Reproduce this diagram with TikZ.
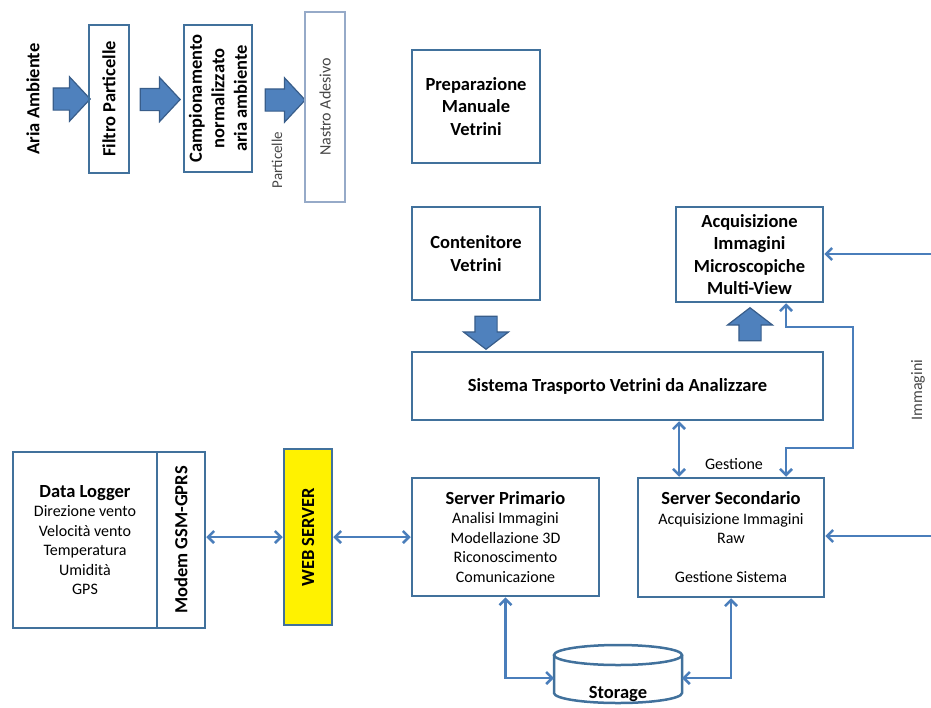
\documentclass[tikz,border=0pt]{standalone}
\usepackage{fontspec}
\setmainfont{Carlito}
\usetikzlibrary{arrows.meta,shapes.arrows}

\definecolor{boxblue}{RGB}{65,113,156}
\definecolor{lineblue}{RGB}{74,126,187}
\definecolor{arrfill}{RGB}{79,129,189}
\definecolor{arrdraw}{RGB}{56,93,138}
\definecolor{tapeblue}{RGB}{150,170,200}
\definecolor{greytext}{RGB}{70,70,70}

\newcommand{\hd}{\fontsize{18.5}{22.5}\selectfont\bfseries}
\newcommand{\tx}{\fontsize{16}{19.5}\selectfont}

\begin{document}
\begin{tikzpicture}[x=1pt,y=-1pt,
	box/.style={draw=boxblue,line width=2.5pt,inner sep=0pt,align=center},
	blockarrow/.style={single arrow,draw=arrdraw,fill=arrfill,line width=1.2pt,inner sep=0pt,
		text height=21pt,text depth=0pt,minimum width=43pt,
		single arrow head extend=11pt,single arrow tip angle=94},
	link/.style={draw=lineblue,line width=2.6pt},
	>={Straight Barb[length=6pt,width=12pt]}]
	\useasboundingbox (0,0) rectangle (931,707);

	% campionamento
	\node (aria) [rotate=90,font=\hd] at (33,99) {Aria Ambiente};
	\node (a1) [blockarrow,minimum height=37pt] at (66.5,99) {};
	\node (filtro) [box,rotate=90,minimum width=148pt,minimum height=40pt,font=\hd] at (109,99) {Filtro Particelle};
	\node (a2) [blockarrow,minimum height=40pt] at (155,99.5) {};
	\node (camp) [box,rotate=90,minimum width=147pt,minimum height=68pt,font=\hd] at (218,98.5) {Campionamento\\normalizzato\\aria ambiente};
	\node (a3) [blockarrow,minimum height=40pt] at (280,100) {};
	\node (part) [rotate=90,font=\fontsize{15}{18}\selectfont,text=greytext] at (277,160) {Particelle};
	\node (nastro) [draw=tapeblue,line width=1.3pt,inner sep=0pt,rotate=90,minimum width=190pt,minimum height=40pt,font=\tx,text=greytext] at (325,107) {Nastro Adesivo};

	% vetrini
	\node (prep) [box,minimum width=128pt,minimum height=113pt,font=\hd] at (476,106.5) {Preparazione\\Manuale\\Vetrini};
	\node (cont) [box,minimum width=128pt,minimum height=93pt,font=\hd] at (476,253.5) {Contenitore\\Vetrini};
	\node (acq) [box,minimum width=147pt,minimum height=95pt,font=\hd] at (749.5,254.5) {Acquisizione\\Immagini\\Microscopiche\\Multi-View};
	\node (down) [blockarrow,rotate=-90,minimum height=33pt,minimum width=44pt,single arrow head extend=11.5pt,single arrow tip angle=105] at (486,328.5) {};
	\node (up) [blockarrow,rotate=90,minimum height=33pt,minimum width=44pt,single arrow head extend=11.5pt,single arrow tip angle=105] at (750,328.5) {};
	\node (sist) [box,minimum width=411pt,minimum height=68pt,font=\hd] at (617.5,386) {Sistema Trasporto Vetrini da Analizzare};

	% server
	\node (log) [box,minimum width=144pt,minimum height=176pt,font=\tx] at (85,540) {{\hd Data Logger}\\Direzione vento\\Velocità vento\\Temperatura\\Umidità\\GPS};
	\node (modem) [box,rotate=90,minimum width=176pt,minimum height=48pt,font=\hd] at (181,540) {Modem GSM-GPRS};
	\node (web) [box,fill=yellow,rotate=90,minimum width=176pt,minimum height=48pt,font=\hd] at (308,537) {WEB SERVER};
	\node (prim) [box,minimum width=187pt,minimum height=118pt,font=\tx] at (505.5,537) {{\hd Server Primario}\\Analisi Immagini\\Modellazione 3D\\Riconoscimento\\Comunicazione};
	\node (sec) [box,minimum width=186pt,minimum height=119pt,font=\tx] at (731,537.5) {{\hd Server Secondario}\\Acquisizione Immagini\\Raw\\[19.5pt]Gestione Sistema};

	% storage
	\node (stor) [font=\hd] at (618,694) {Storage};
	\draw [boxblue,line width=2.5pt] (618,655) ellipse [x radius=64pt,y radius=10pt];
	\draw [boxblue,line width=2.5pt] (554,655) -- (554,693) arc [start angle=180,end angle=360,x radius=64pt,y radius=10pt] -- (682,655);
	\coordinate (stW) at (554,678);
	\coordinate (stE) at (682,678);

	\coordinate (imgin) at (931,254);
	\coordinate (rawin) at (931,536);
	\node (imm) [rotate=90,font=\tx,text=greytext] at (918,390) {Immagini};
	\node (gest) [font=\tx] at (734,464) {Gestione};

	\draw [link,->] (imgin) -- (imgin -| acq.east);
	\draw [link,->] (rawin) -- (rawin -| sec.east);
	\draw [link,<->] ([xshift=36.5pt]acq.south) |- (853,327) -- (853,448) -| ([xshift=55pt]sec.north);
	\draw [link,<->] ([xshift=61.5pt]sist.south) -- ([xshift=-52pt]sec.north);
	\draw [link,<->] (modem.south |- web.north) -- (web.north);
	\draw [link,<->] (web.south) -- (web.south -| prim.west);
	\draw [link,<->] (prim.south) |- (stW);
	\draw [link,<->] (sec.south) |- (stE);
\end{tikzpicture}
\end{document}
